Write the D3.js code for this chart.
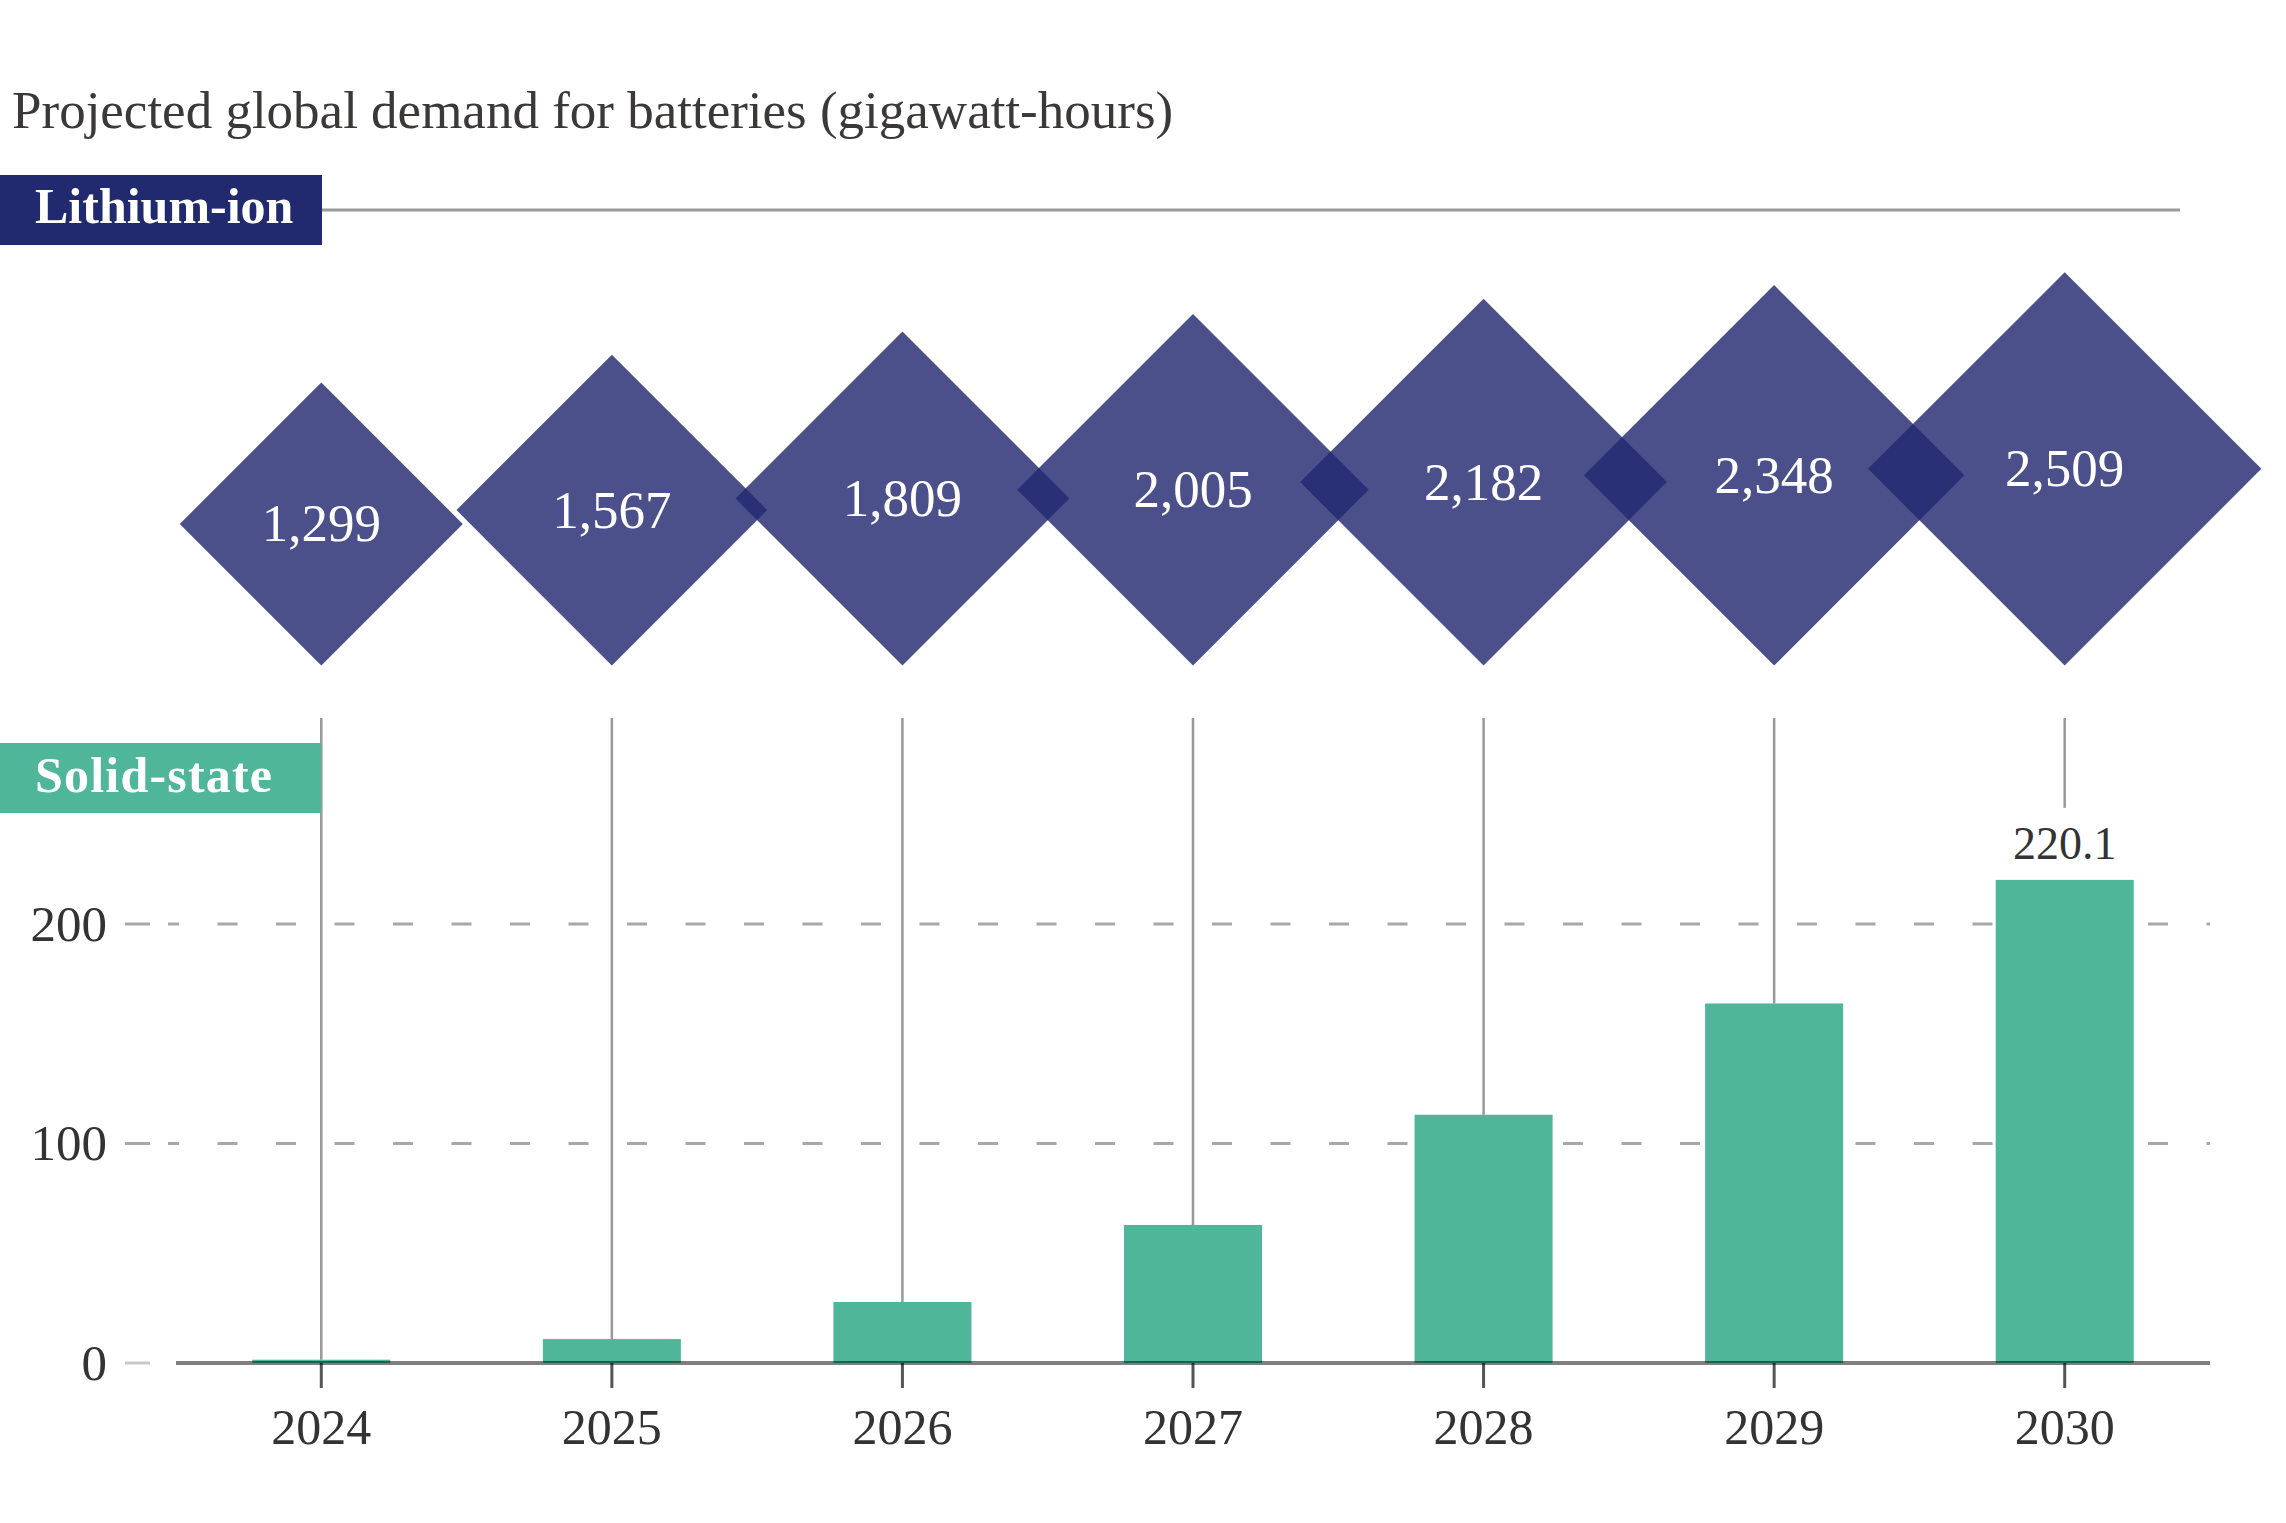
<!DOCTYPE html>
<html>
<head>
<meta charset="utf-8">
<script src="https://cdn.jsdelivr.net/npm/d3@7"></script>
<style>
  body { margin: 0; background: #fff; }
  text { font-family: "Liberation Serif", serif; }
</style>
</head>
<body>
<div id="chart"></div>
<script>
let width = 2286, height = 1523;

// data
const years = ["2024", "2025", "2026", "2027", "2028", "2029", "2030"];
const lithiumIon = [1299, 1567, 1809, 2005, 2182, 2348, 2509];
const solidState = [1.5, 10.9, 27.8, 62.9, 113.1, 163.8, 220.1];
const yTicks = [0, 100, 200];

const navy = "#232a71", teal = "#4fb699";

let svg = d3.select("#chart")
    .append("svg")
    .attr("width", width)
    .attr("height", height);

svg.append("rect").attr("width", width).attr("height", height).attr("fill", "#fff");

let x = d3.scaleBand()
    .domain(years)
    .range([176, 2210])
    .paddingInner(0.525)
    .paddingOuter(0.2625);
let cx = d => x(d) + x.bandwidth() / 2;

let y = d3.scaleLinear().domain([0, 200]).range([1363, 924]);

// diamond diagonal scales with sqrt of value (area ~ value)
let size = d3.scaleSqrt().domain([0, 2509]).range([0, 393.3]);
let diamondBottom = 665.5;

// title
svg.append("text")
    .attr("x", 12)
    .attr("y", 128)
    .attr("font-size", 53)
    .attr("fill", "#3b3838")
    .text("Projected global demand for batteries (gigawatt-hours)");

// Lithium-ion header
svg.append("line")
    .attr("x1", 322).attr("x2", 2180)
    .attr("y1", 210).attr("y2", 210)
    .attr("stroke", "#9a9a9a")
    .attr("stroke-width", 3);
svg.append("rect")
    .attr("x", 0).attr("y", 175)
    .attr("width", 322).attr("height", 70)
    .attr("fill", "#222a6f");
svg.append("text")
    .attr("x", 35).attr("y", 223)
    .attr("font-size", 50)
    .attr("font-weight", "bold")
    .attr("fill", "#fff")
    .text("Lithium-ion");

// diamonds
let li = years.map((yr, i) => ({year: yr, value: lithiumIon[i]}));

svg.append("g")
    .selectAll("path.diamond")
    .data(li)
    .join("path")
    .attr("class", "diamond")
    .attr("fill", navy)
    .attr("fill-opacity", 0.82)
    .attr("d", d => {
      let h = size(d.value) / 2, c = cx(d.year), m = diamondBottom - h;
      return `M${c},${m - h}L${c + h},${m}L${c},${m + h}L${c - h},${m}Z`;
    });

svg.append("g")
    .selectAll("text")
    .data(li)
    .join("text")
    .attr("x", d => cx(d.year))
    .attr("y", d => diamondBottom - size(d.value) / 2)
    .attr("dy", "0.33em")
    .attr("text-anchor", "middle")
    .attr("font-size", 53)
    .attr("fill", "#fff")
    .text(d => d3.format(",")(d.value));

// solid-state section
let ss = years.map((yr, i) => ({year: yr, value: solidState[i]}));
let last = ss[ss.length - 1];

// gridlines + y ticks
let grid = svg.append("g");
yTicks.forEach(t => {
  grid.append("line")
      .attr("x1", 125).attr("x2", 150)
      .attr("y1", y(t)).attr("y2", y(t))
      .attr("stroke", t === 0 ? "#c8c8c8" : "#a8a8a8")
      .attr("stroke-width", 3);
  if (t > 0) {
    grid.append("line")
        .attr("x1", 168).attr("x2", 2210)
        .attr("y1", y(t)).attr("y2", y(t))
        .attr("stroke", "#a8a8a8")
        .attr("stroke-width", 3)
        .attr("stroke-dasharray", "20,38.5")
        .attr("stroke-dashoffset", 9);
  }
  grid.append("text")
      .attr("x", 107).attr("y", y(t))
      .attr("dy", "0.33em")
      .attr("text-anchor", "end")
      .attr("font-size", 51)
      .attr("fill", "#333")
      .text(t);
});

// connector lines from diamonds down to bars
svg.append("g")
    .selectAll("line")
    .data(ss)
    .join("line")
    .attr("x1", d => cx(d.year)).attr("x2", d => cx(d.year))
    .attr("y1", 718)
    .attr("y2", d => d === last ? y(d.value) - 72 : y(d.value))
    .attr("stroke", "#999")
    .attr("stroke-width", 2.5);

// Solid-state header
svg.append("rect")
    .attr("x", 0).attr("y", 743)
    .attr("width", 321).attr("height", 70)
    .attr("fill", teal);
svg.append("text")
    .attr("x", 35).attr("y", 792)
    .attr("font-size", 50)
    .attr("font-weight", "bold")
    .attr("letter-spacing", 1.2)
    .attr("fill", "#fff")
    .text("Solid-state");

// bars
svg.append("g")
    .selectAll("rect")
    .data(ss)
    .join("rect")
    .attr("x", d => x(d.year))
    .attr("width", x.bandwidth())
    .attr("y", d => y(d.value))
    .attr("height", d => y(0) - y(d.value))
    .attr("fill", teal);

svg.append("text")
    .attr("x", cx(last.year))
    .attr("y", y(last.value) - 21)
    .attr("text-anchor", "middle")
    .attr("font-size", 46)
    .attr("fill", "#333")
    .text(last.value);

// x axis
let xAxis = svg.append("g")
    .attr("transform", `translate(0,${y(0)})`)
    .call(d3.axisBottom(x).tickSize(25).tickPadding(20));
xAxis.select(".domain").remove();
xAxis.selectAll(".tick line").attr("stroke", "#555").attr("stroke-width", 3);
xAxis.selectAll(".tick text")
    .attr("font-family", "Liberation Serif")
    .attr("font-size", 50)
    .attr("fill", "#333");

svg.append("line")
    .attr("x1", 176).attr("x2", 2210)
    .attr("y1", y(0)).attr("y2", y(0))
    .attr("stroke", "#000")
    .attr("stroke-opacity", 0.5)
    .attr("stroke-width", 4);
</script>
</body>
</html>
